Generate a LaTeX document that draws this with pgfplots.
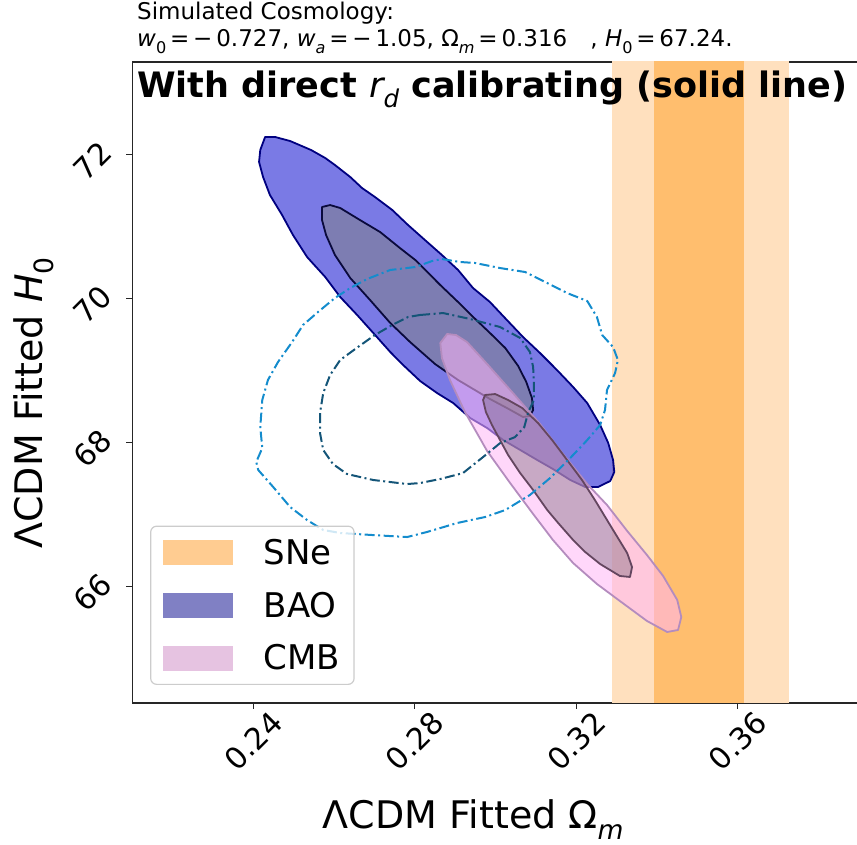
\documentclass[border=0pt]{standalone}
\usepackage{fontspec}
\setmainfont{DejaVu Sans}
\usepackage{graphicx}
\usepackage{pgfplots}
\pgfplotsset{compat=1.18}

\definecolor{snelight}{RGB}{255,224,190}
\definecolor{snedark}{RGB}{255,190,110}
\definecolor{baofill}{RGB}{0,0,205}
\definecolor{baoedge}{RGB}{0,0,128}
\definecolor{baoinner}{RGB}{128,128,128}
\definecolor{baoinedge}{RGB}{10,10,60}
\definecolor{cmbfill}{RGB}{255,182,246}
\definecolor{cmbedge}{RGB}{180,140,190}
\definecolor{cmbinner}{RGB}{120,100,120}
\definecolor{cmbinedge}{RGB}{100,70,95}
\definecolor{ddouter}{RGB}{20,140,205}
\definecolor{ddinner}{RGB}{20,85,120}
\definecolor{legsne}{RGB}{255,204,145}
\definecolor{legbao}{RGB}{128,128,196}
\definecolor{legcmb}{RGB}{230,195,225}

\newcommand{\sbs}[1]{\raisebox{-0.28em}{\scalebox{0.7}{#1}}}

\begin{document}
\begin{tikzpicture}
\begin{axis}[
  at={(0pt,0pt)}, anchor=south west,
  scale only axis, width=726.2pt, height=641pt,
  xmin=0.21, xmax=0.3899, ymin=64.385, ymax=73.288,
  axis line style={line width=1.3pt, black!85},
  tick align=outside, xtick pos=bottom, ytick pos=left,
  major tick length=6pt,
  every tick/.style={black!85, line width=1.2pt},
  xtick={0.24,0.28,0.32,0.36}, xticklabels={0.24,0.28,0.32,0.36},
  ytick={66,68,70,72}, yticklabels={66,68,70,72},
  xticklabel style={font=\fontsize{30}{36}\selectfont, yshift=-32pt, rotate=45, anchor=center},
  yticklabel style={font=\fontsize{30}{36}\selectfont, xshift=-34pt, yshift=-6pt, rotate=45, anchor=center},
  legend style={at={(0.0245,0.0281)}, anchor=south west, draw=black!20, line width=1.2pt,
    rounded corners=6pt, fill=white, fill opacity=0.8, text opacity=1,
    inner xsep=12pt, inner ysep=11pt, row sep=22pt, column sep=29pt,
    font=\fontsize{34}{41}\selectfont},
  legend cell align=left,
]
% SNe bands
\addplot[forget plot, draw=none, fill=snelight] coordinates {(0.3288,60) (0.3728,60) (0.3728,80) (0.3288,80)} -- cycle;
\addplot[forget plot, draw=none, fill=snedark] coordinates {(0.3393,60) (0.3616,60) (0.3616,80) (0.3393,80)} -- cycle;

% BAO outer
\addplot[forget plot, draw=baoedge, line width=1.8pt, line join=round, fill=baofill, fill opacity=0.52] coordinates {
(0.2429,72.246) (0.2454,72.246) (0.2491,72.190) (0.2543,72.065) (0.2578,71.954) (0.2602,71.857)
(0.2640,71.690) (0.2669,71.538) (0.2701,71.413) (0.2744,71.232) (0.2783,71.024) (0.2825,70.815)
(0.2867,70.607) (0.2907,70.399) (0.2944,70.149) (0.2986,69.954) (0.3028,69.704) (0.3068,69.468)
(0.3110,69.246) (0.3152,69.010) (0.3192,68.774) (0.3227,68.551) (0.3259,68.246) (0.3279,67.996)
(0.3291,67.760) (0.3294,67.593) (0.3284,67.468) (0.3254,67.385) (0.3222,67.385) (0.3185,67.482)
(0.3142,67.635) (0.3103,67.760) (0.3061,67.899) (0.3019,68.037) (0.2979,68.204) (0.2937,68.343)
(0.2895,68.551) (0.2855,68.690) (0.2813,68.857) (0.2771,69.079) (0.2739,69.260) (0.2697,69.524)
(0.2657,69.774) (0.2615,70.024) (0.2578,70.301) (0.2533,70.579) (0.2498,70.885) (0.2471,71.163)
(0.2441,71.440) (0.2424,71.690) (0.2414,71.899) (0.2417,72.065)} -- cycle;

% BAO inner
\addplot[forget plot, draw=baoinedge, line width=1.8pt, line join=round, fill=baoinner, fill opacity=0.5] coordinates {
(0.2570,71.274) (0.2590,71.301) (0.2615,71.260) (0.2664,71.093) (0.2714,70.926) (0.2763,70.704)
(0.2801,70.538) (0.2863,70.190) (0.2907,69.954) (0.2947,69.732) (0.2986,69.524) (0.3024,69.315)
(0.3056,69.065) (0.3076,68.843) (0.3090,68.621) (0.3093,68.454) (0.3085,68.371) (0.3068,68.357)
(0.3028,68.482) (0.2986,68.607) (0.2957,68.704) (0.2907,68.871) (0.2850,69.093) (0.2788,69.399)
(0.2739,69.663) (0.2689,69.982) (0.2640,70.287) (0.2602,70.607) (0.2580,70.885) (0.2570,71.093)} -- cycle;

% CMB outer
\addplot[forget plot, draw=cmbedge, line width=1.8pt, line join=round, fill=cmbfill, fill opacity=0.55] coordinates {
(0.2880,69.510) (0.2902,69.496) (0.2929,69.399) (0.2979,69.093) (0.3043,68.690) (0.3110,68.260)
(0.3167,67.843) (0.3227,67.426) (0.3276,67.135) (0.3326,66.774) (0.3375,66.440) (0.3415,66.149)
(0.3450,65.815) (0.3460,65.579) (0.3452,65.399) (0.3425,65.371) (0.3375,65.524) (0.3308,65.801)
(0.3251,66.038) (0.3192,66.329) (0.3142,66.649) (0.3093,67.010) (0.3036,67.440) (0.2979,67.885)
(0.2924,68.426) (0.2887,68.871) (0.2867,69.176) (0.2863,69.385)} -- cycle;

% CMB inner
\addplot[forget plot, draw=cmbinedge, line width=1.8pt, line join=round, fill=cmbinner, fill opacity=0.4] coordinates {
(0.2974,68.663) (0.2999,68.676) (0.3031,68.593) (0.3066,68.482) (0.3105,68.274) (0.3140,68.037)
(0.3177,67.760) (0.3214,67.482) (0.3246,67.204) (0.3291,66.788) (0.3326,66.467) (0.3338,66.274)
(0.3333,66.135) (0.3308,66.149) (0.3259,66.315) (0.3222,66.482) (0.3192,66.649) (0.3155,66.885)
(0.3128,67.065) (0.3093,67.343) (0.3061,67.578) (0.3031,67.829) (0.3011,68.037) (0.2991,68.246)
(0.2976,68.426) (0.2969,68.593)} -- cycle;

% dash-dot outer
\addplot[forget plot, color=ddouter, line width=2pt, line join=round, dash pattern=on 10pt off 3.5pt on 2pt off 3.5pt] coordinates {
(0.2867,70.551) (0.2912,70.510) (0.2949,70.496) (0.3011,70.426) (0.3073,70.371) (0.3128,70.218)
(0.3177,70.079) (0.3227,69.968) (0.3251,69.746) (0.3264,69.496) (0.3291,69.329) (0.3303,69.149)
(0.3296,68.968) (0.3276,68.732) (0.3271,68.454) (0.3259,68.246) (0.3227,68.037) (0.3185,67.788)
(0.3135,67.510) (0.3085,67.274) (0.3024,67.065) (0.2974,66.968) (0.2905,66.885) (0.2830,66.760)
(0.2781,66.690) (0.2697,66.717) (0.2615,66.746) (0.2573,66.788) (0.2533,66.926) (0.2491,67.107)
(0.2449,67.385) (0.2412,67.621) (0.2407,67.732) (0.2422,67.926) (0.2417,68.217) (0.2422,68.593)
(0.2436,68.871) (0.2461,69.121) (0.2496,69.399) (0.2523,69.635) (0.2560,69.815) (0.2602,70.010)
(0.2640,70.149) (0.2682,70.274) (0.2739,70.399) (0.2801,70.440) (0.2843,70.524) (0.2867,70.551)};

% dash-dot inner
\addplot[forget plot, color=ddinner, line width=2pt, line join=round, dash pattern=on 10pt off 3.5pt on 2pt off 3.5pt] coordinates {
(0.2813,69.774) (0.2870,69.801) (0.2937,69.718) (0.3011,69.607) (0.3061,69.454) (0.3085,69.260)
(0.3093,69.051) (0.3095,68.801) (0.3095,68.593) (0.3081,68.426) (0.3071,68.217) (0.3048,68.078)
(0.3011,67.994) (0.2969,67.801) (0.2919,67.578) (0.2863,67.496) (0.2813,67.440) (0.2781,67.426)
(0.2697,67.482) (0.2632,67.565) (0.2597,67.704) (0.2573,67.899) (0.2565,68.135) (0.2565,68.413)
(0.2573,68.690) (0.2590,68.940) (0.2615,69.149) (0.2659,69.329) (0.2701,69.496) (0.2744,69.635)
(0.2783,69.746) (0.2813,69.774)};

\addlegendimage{legend image code/.code={\path[fill=legsne, draw=none, fill opacity=1, sharp corners] (0pt,-12.5pt) rectangle (70pt,12.5pt);}}
\addlegendentry{SNe}
\addlegendimage{legend image code/.code={\path[fill=legbao, draw=none, fill opacity=1, sharp corners] (0pt,-12.5pt) rectangle (70pt,12.5pt);}}
\addlegendentry{BAO}
\addlegendimage{legend image code/.code={\path[fill=legcmb, draw=none, fill opacity=1, sharp corners] (0pt,-12.5pt) rectangle (70pt,12.5pt);}}
\addlegendentry{CMB}
\end{axis}

\node[anchor=base west, font=\fontsize{23}{28}\selectfont, inner sep=0pt] at (4.7pt,683pt) {Simulated Cosmology:};
\node[anchor=base west, font=\fontsize{23}{28}\selectfont, inner sep=0pt] at (4.7pt,656pt)
  {\textit{w}\sbs{0}\,=\,−\,0.727, \textit{w}\sbs{\textit{a}}\,=\,−\,1.05, Ω\sbs{\textit{m}}\,=\,0.316\quad, \textit{H}\sbs{0}\,=\,67.24.};
\node[anchor=base west, font=\bfseries\fontsize{35}{42}\selectfont, inner sep=0pt] at (4.7pt,605pt)
  {With direct {\mdseries\itshape r\sbs{d}} calibrating (solid line)};
\node[rotate=90, font=\fontsize{38}{45}\selectfont, inner sep=0pt] at (-98.3pt,300pt) {ΛCDM Fitted \textit{H}\sbs{0}};
\node[anchor=base, font=\fontsize{38}{45}\selectfont, inner sep=0pt] at (341pt,-126pt) {ΛCDM Fitted Ω\sbs{\textit{m}}};

\pgfresetboundingbox
\path[use as bounding box] (-132.3pt,-142pt) rectangle (724.7pt,703pt);
\end{tikzpicture}
\end{document}
